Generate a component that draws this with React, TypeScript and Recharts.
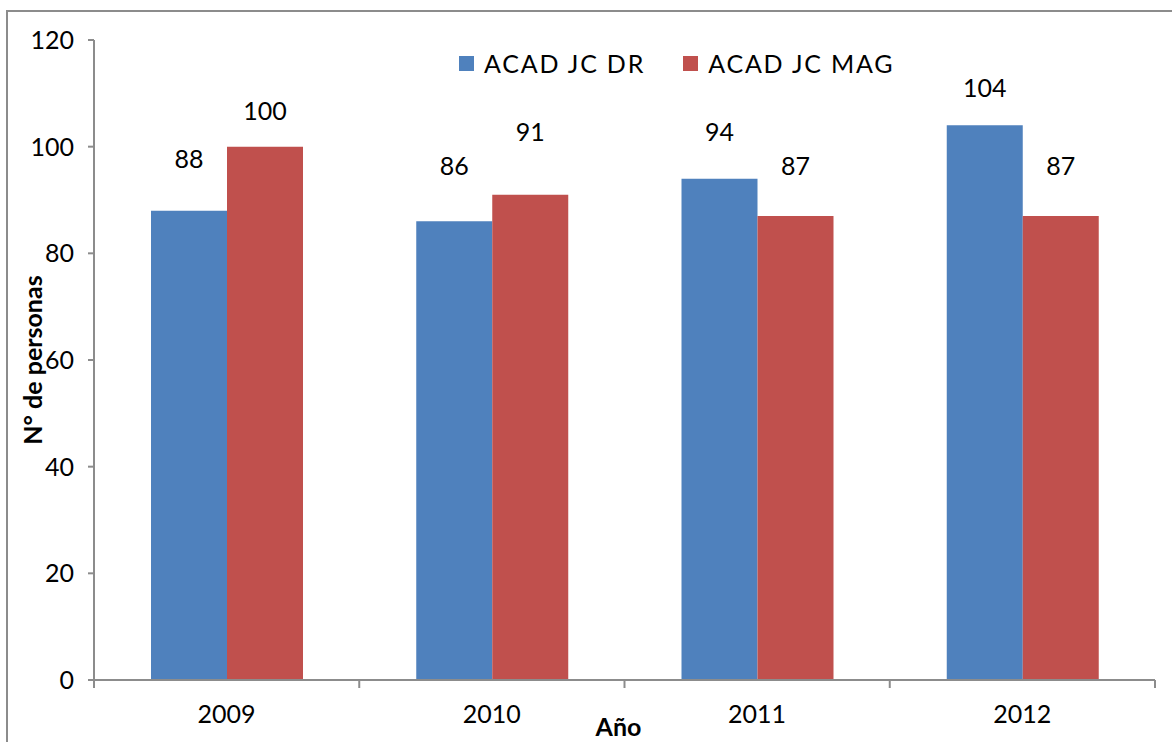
import React from 'react';
import { BarChart, Bar, XAxis, YAxis, Legend, LabelList } from 'recharts';

const years = ['2009', '2010', '2011', '2012'];
const acadDr = [88, 86, 94, 104];
const acadMag = [100, 91, 87, 87];
const yTicks = [0, 20, 40, 60, 80, 100, 120];

// labels in the original were dragged by hand, so each one floats a bit differently
const liftDr = [53, 56, 48, 38];
const liftMag = [37, 64, 51, 51];

const BLUE = '#4F81BD';
const RED = '#C0504D';
const AXIS = '#8c8c8c';
const FONT = 'Lato, "DejaVu Sans", sans-serif';
const FS = 25;

const data = years.map((year, i) => ({
  year,
  dr: acadDr[i],
  mag: acadMag[i],
}));

const W = 1172;
const H = 742;
const margin = { top: 40, right: 17, bottom: 0, left: 0 };
const yAxisWidth = 94;
const xAxisHeight = 62;
const halfBand = (W - margin.right - yAxisWidth) / years.length / 2;

const XTick = (props: any) => {
  const { x, y, payload, index } = props;
  const half = payload?.offset || halfBand;
  const top = y - 8;
  return (
    <g>
      <line x1={x - half} y1={top} x2={x - half} y2={top + 8} stroke={AXIS} strokeWidth={2} />
      {index === years.length - 1 && (
        <line x1={x + half} y1={top} x2={x + half} y2={top + 8} stroke={AXIS} strokeWidth={2} />
      )}
      <text x={x} y={y + 25} textAnchor="middle" dominantBaseline="central" fontSize={FS} fontFamily={FONT} fill="#000">
        {payload.value}
      </text>
    </g>
  );
};

const makeLabel = (lifts: number[]) => (props: any) => {
  const { x, y, width, value, index } = props;
  return (
    <text
      x={x + width / 2}
      y={y - lifts[index]}
      textAnchor="middle"
      dominantBaseline="central"
      fontSize={FS}
      fontFamily={FONT}
      fill="#000"
    >
      {value}
    </text>
  );
};

const LegendBox = (props: any) => {
  const { payload } = props;
  return (
    <div style={{ display: 'flex', alignItems: 'center', fontFamily: FONT, fontSize: FS, letterSpacing: 1.8 }}>
      {payload.map((item: any, i: number) => (
        <div key={item.value} style={{ display: 'flex', alignItems: 'center', marginRight: i === 0 ? 38 : 0 }}>
          <span style={{ width: 15, height: 15, background: item.color, marginRight: 10, display: 'inline-block' }} />
          <span>{item.value}</span>
        </div>
      ))}
    </div>
  );
};

const App = () => {
  return (
    <div style={{ position: 'absolute', left: 0, top: 0, width: W, height: H, background: '#fff' }}>
      <div
        style={{
          position: 'absolute',
          left: 6,
          top: 10,
          right: 0,
          bottom: 0,
          borderTop: `2px solid ${AXIS}`,
          borderLeft: `2px solid ${AXIS}`,
        }}
      />
      <div style={{ position: 'absolute', left: 0, top: 0 }}>
        <BarChart width={W} height={H} data={data} margin={margin} barGap={0} barSize={76}>
          <XAxis
            dataKey="year"
            axisLine={{ stroke: AXIS, strokeWidth: 2 }}
            tickLine={false}
            tickSize={8}
            tickMargin={0}
            height={xAxisHeight}
            tick={<XTick />}
            interval={0}
            label={(p: any) => {
              const vb = p.viewBox;
              return (
                <text
                  x={vb.x + vb.width / 2 - 6}
                  y={726}
                  textAnchor="middle"
                  dominantBaseline="central"
                  fontSize={FS}
                  fontWeight="bold"
                  fontFamily={FONT}
                >
                  Año
                </text>
              );
            }}
          />
          <YAxis
            width={yAxisWidth}
            domain={[0, 120]}
            ticks={yTicks}
            interval={0}
            axisLine={{ stroke: AXIS, strokeWidth: 2 }}
            tickLine={{ stroke: AXIS, strokeWidth: 2 }}
            tickSize={6}
            tickMargin={14}
            tick={{ fontSize: FS, fontFamily: FONT, fill: '#000' }}
            label={(p: any) => {
              const vb = p.viewBox;
              const cy = vb.y + vb.height / 2;
              return (
                <text
                  x={32}
                  y={cy}
                  transform={`rotate(-90 32 ${cy})`}
                  textAnchor="middle"
                  dominantBaseline="central"
                  fontSize={FS}
                  fontWeight="bold"
                  fontFamily={FONT}
                >
                  N° de personas
                </text>
              );
            }}
          />
          <Legend
            layout="horizontal"
            verticalAlign="middle"
            align="center"
            content={<LegendBox />}
            wrapperStyle={{ top: 48, left: 459, width: 'auto' }}
          />
          <Bar dataKey="dr" name="ACAD JC DR" fill={BLUE} isAnimationActive={false}>
            <LabelList dataKey="dr" content={makeLabel(liftDr)} />
          </Bar>
          <Bar dataKey="mag" name="ACAD JC MAG" fill={RED} isAnimationActive={false}>
            <LabelList dataKey="mag" content={makeLabel(liftMag)} />
          </Bar>
        </BarChart>
      </div>
    </div>
  );
};

export default App;
